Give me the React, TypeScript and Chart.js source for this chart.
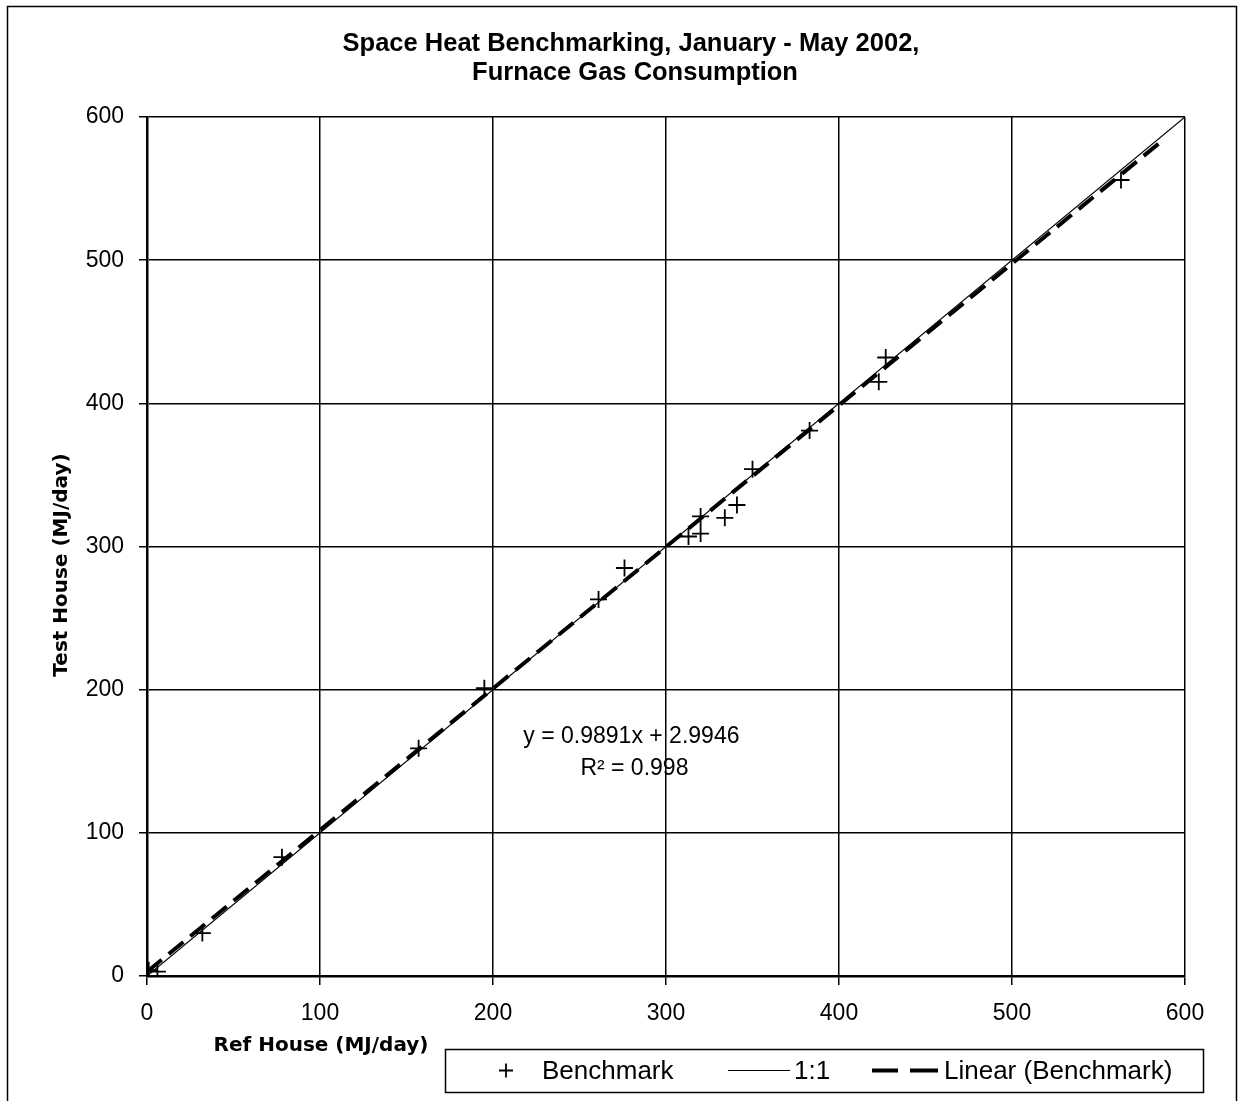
import React, { useEffect, useRef } from "react";
import { Chart, registerables } from "chart.js";

Chart.register(...registerables);

// ---- data ----
const refHouse = [1, 6, 32, 78, 157, 195, 261, 276, 313, 320, 320, 334, 341, 350, 383, 423, 427, 563];
const testHouse = [4, 3, 30, 83, 159, 201, 263, 285, 307, 309, 321, 320, 329, 354, 381, 415, 432, 556];
const oneToOneX = [0, 600];
const oneToOneY = [0, 600];
const trendSlope = 0.9891;
const trendIntercept = 2.9946;
const trendX = [0, 588];
const xTicks = [0, 100, 200, 300, 400, 500, 600];
const yTicks = [0, 100, 200, 300, 400, 500, 600];

const titleLines = ["Space Heat Benchmarking, January - May 2002,", "Furnace Gas Consumption"];
const xTitle = "Ref House (MJ/day)";
const yTitle = "Test House (MJ/day)";
const eqLine1 = "y = 0.9891x + 2.9946";
const eqLine2 = "R\u00B2 = 0.998";
const legendLabels = ["Benchmark", "1:1", "Linear (Benchmark)"];

const W = 1239;
const H = 1101;
const NARROW = '"Liberation Sans Narrow", "Liberation Sans", Arial, sans-serif';
const SANS = '"Liberation Sans", Arial, sans-serif';
const WIDE_BOLD = '"DejaVu Sans", Verdana, sans-serif';

const decorPlugin = {
  id: "decor",
  afterDraw(chart: any) {
    const ctx = chart.ctx as CanvasRenderingContext2D;
    const xs = chart.scales.x;
    const ys = chart.scales.y;
    ctx.save();
    ctx.fillStyle = "#000";
    ctx.strokeStyle = "#000";

    // outer frame
    ctx.lineWidth = 1.5;
    ctx.beginPath();
    ctx.moveTo(7.5, H);
    ctx.lineTo(7.5, 6.5);
    ctx.lineTo(1236.5, 6.5);
    ctx.lineTo(1236.5, H);
    ctx.stroke();

    // title
    ctx.font = `bold 25.5px ${SANS}`;
    ctx.textAlign = "center";
    ctx.textBaseline = "middle";
    ctx.fillText(titleLines[0], 631, 44);
    ctx.fillText(titleLines[1], 635, 73);

    // axis titles
    ctx.font = `bold 20px ${WIDE_BOLD}`;
    ctx.fillText(xTitle, 321, 1046);
    ctx.save();
    ctx.translate(62, 565);
    ctx.rotate(-Math.PI / 2);
    ctx.fillText(yTitle, 0, 0);
    ctx.restore();

    // equation annotation
    ctx.font = `23px ${SANS}`;
    const ex = xs.getPixelForValue(280);
    ctx.fillText(eqLine1, ex, ys.getPixelForValue(167));
    ctx.fillText(eqLine2, ex + 3, ys.getPixelForValue(145));

    // legend
    const lx = 445, ly = 1049, lw = 758, lh = 43;
    ctx.fillStyle = "#fff";
    ctx.fillRect(lx, ly, lw, lh);
    ctx.fillStyle = "#000";
    ctx.lineWidth = 1.5;
    ctx.strokeRect(lx + 0.5, ly + 0.5, lw, lh);
    const cy = ly + lh / 2;
    // + marker
    ctx.lineWidth = 1.8;
    ctx.beginPath();
    ctx.moveTo(506 - 7, cy);
    ctx.lineTo(506 + 7, cy);
    ctx.moveTo(506, cy - 7);
    ctx.lineTo(506, cy + 7);
    ctx.stroke();
    // solid line
    ctx.lineWidth = 1.2;
    ctx.beginPath();
    ctx.moveTo(728, cy);
    ctx.lineTo(790, cy);
    ctx.stroke();
    // dashed line
    ctx.lineWidth = 4;
    ctx.beginPath();
    ctx.moveTo(872, cy);
    ctx.lineTo(898, cy);
    ctx.moveTo(910, cy);
    ctx.lineTo(938, cy);
    ctx.stroke();
    ctx.font = `26px ${SANS}`;
    ctx.textAlign = "left";
    ctx.fillText(legendLabels[0], 542, cy + 1);
    ctx.fillText(legendLabels[1], 794, cy + 1);
    ctx.fillText(legendLabels[2], 944, cy + 1);

    ctx.restore();
  },
};

export default function App() {
  const ref = useRef<HTMLCanvasElement | null>(null);

  useEffect(() => {
    if (!ref.current) return;
    const bench = refHouse.map((x, i) => ({ x, y: testHouse[i] }));
    const one = oneToOneX.map((x, i) => ({ x, y: oneToOneY[i] }));
    const trend = trendX.map((x) => ({ x, y: trendSlope * x + trendIntercept }));

    const chart = new Chart(ref.current, {
      type: "scatter",
      data: {
        datasets: [
          {
            label: legendLabels[0],
            data: bench,
            pointStyle: "cross",
            pointRadius: 8.5,
            pointBorderWidth: 1.8,
            borderColor: "#000",
            backgroundColor: "#000",
            showLine: false,
          },
          {
            label: legendLabels[1],
            data: one,
            showLine: true,
            pointRadius: 0,
            borderColor: "#000",
            borderWidth: 1.2,
          },
          {
            label: legendLabels[2],
            data: trend,
            showLine: true,
            pointRadius: 0,
            borderColor: "#000",
            borderWidth: 4,
            borderDash: [19, 9],
          },
        ],
      },
      options: {
        responsive: false,
        animation: false,
        layout: { padding: { left: 0, top: 117, right: 54, bottom: 0 } },
        plugins: {
          legend: { display: false },
          title: { display: false },
          tooltip: { enabled: false },
        },
        scales: {
          x: {
            type: "linear",
            min: 0,
            max: 600,
            afterBuildTicks: (s: any) => {
              s.ticks = xTicks.map((v) => ({ value: v }));
            },
            afterFit: (s: any) => {
              s.height = H - 976;
            },
            ticks: {
              color: "#000",
              font: { family: NARROW, size: 23 },
              padding: 15,
              maxRotation: 0,
            },
            grid: { color: "#000", lineWidth: 1.5, tickLength: 9 },
            border: { color: "#000", width: 2.5 },
          },
          y: {
            type: "linear",
            min: 0,
            max: 600,
            afterBuildTicks: (s: any) => {
              s.ticks = yTicks.map((v) => ({ value: v }));
            },
            afterFit: (s: any) => {
              s.width = 147;
            },
            ticks: {
              color: "#000",
              font: { family: NARROW, size: 23 },
              padding: 15,
            },
            grid: { color: "#000", lineWidth: 1.5, tickLength: 8 },
            border: { color: "#000", width: 2.5 },
          },
        },
      },
      plugins: [decorPlugin],
    });
    return () => chart.destroy();
  }, []);

  return (
    <div style={{ position: "absolute", left: 0, top: 0, width: W, height: H, background: "#fff" }}>
      <canvas ref={ref} width={W} height={H} style={{ display: "block" }} />
    </div>
  );
}
